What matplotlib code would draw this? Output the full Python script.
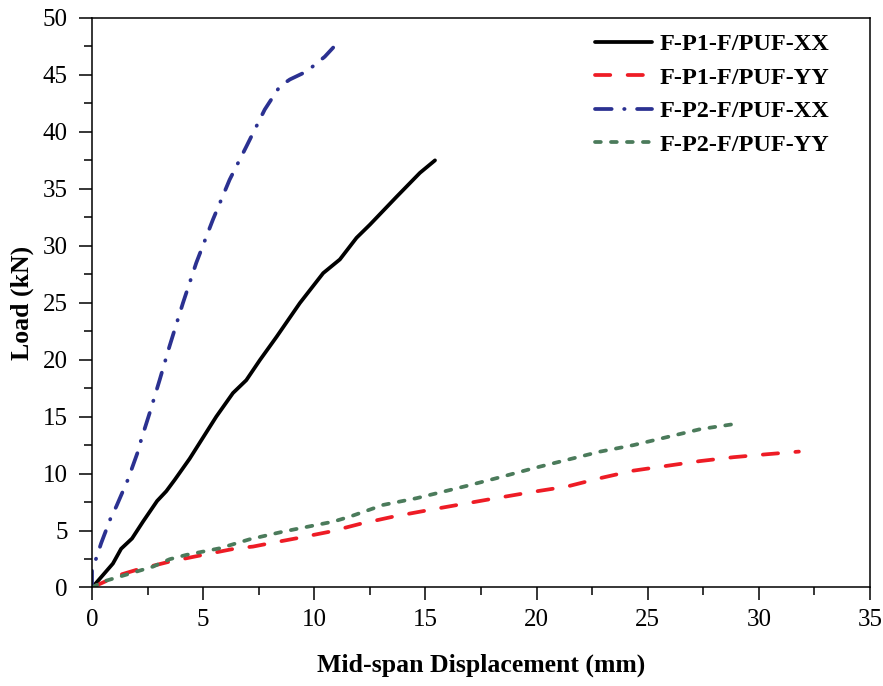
import matplotlib
matplotlib.use("Agg")
import matplotlib.pyplot as plt
from matplotlib.ticker import MultipleLocator

plt.rcParams['font.family'] = ['Liberation Serif', 'DejaVu Serif']
plt.rcParams['lines.scale_dashes'] = False

# F-P1-F/PUF-XX
p1xx_x = [0.0, 0.04, 0.94, 1.31, 1.8, 2.3, 2.93, 3.34, 3.72, 4.39, 5.59, 6.34, 6.94, 7.55, 8.3,
          9.35, 10.4, 11.15, 11.9, 12.5, 13.7, 14.75, 15.43]
p1xx_y = [0.0, 0.07, 2.1, 3.4, 4.3, 5.8, 7.6, 8.45, 9.45, 11.3, 15.0, 17.07, 18.2, 19.96, 22.0,
          24.97, 27.6, 28.8, 30.7, 31.85, 34.3, 36.4, 37.5]

# F-P1-F/PUF-YY
p1yy_x = [0.0, 1.24, 1.99, 3.49, 4.99, 6.5, 7.24, 8.0, 9.2, 10.7, 12.05, 13.55, 15.35, 18.05, 19.85,
          21.36, 22.86, 24.36, 25.86, 27.36, 28.86, 30.37, 31.8]
p1yy_y = [0.0, 1.1, 1.54, 2.27, 2.86, 3.44, 3.59, 3.88, 4.32, 4.9, 5.58, 6.22, 6.87, 7.8, 8.4,
          8.86, 9.6, 10.26, 10.68, 11.1, 11.44, 11.7, 11.93]

# F-P2-F/PUF-XX
p2xx_x = [0.0, 0.0, 0.19, 0.41, 0.86, 1.09, 1.61, 2.06, 2.21, 2.59, 3.04, 3.49, 4.09, 4.69, 5.44,
          6.19, 6.94, 7.77, 8.45, 8.9, 9.65, 10.47, 10.85]
p2xx_y = [0.0, 1.6, 2.57, 3.88, 6.2, 7.1, 9.45, 11.9, 12.96, 15.3, 18.2, 21.2, 24.97, 28.5, 32.3,
          35.8, 38.7, 41.96, 44.0, 44.6, 45.3, 46.6, 47.4]

# F-P2-F/PUF-YY
p2yy_x = [0.0, 0.49, 1.24, 2.74, 3.49, 4.24, 5.74, 7.09, 8.59, 10.1, 10.85, 11.6, 13.1, 14.6,
          16.86, 18.36, 19.86, 21.36, 22.86, 24.36, 25.86, 27.36, 28.86]
p2yy_y = [0.0, 0.51, 0.95, 1.83, 2.48, 2.86, 3.44, 4.23, 4.9, 5.49, 5.78, 6.22, 7.25, 7.84,
          8.92, 9.68, 10.47, 11.2, 11.93, 12.5, 13.2, 13.9, 14.34]

labels = ['F-P1-F/PUF-XX', 'F-P1-F/PUF-YY', 'F-P2-F/PUF-XX', 'F-P2-F/PUF-YY']

fig = plt.figure(figsize=(8.83, 6.86), dpi=100)
ax = fig.add_axes([0.1042, 0.1436, 0.8811, 0.8302])

lw = 2.7
ax.plot(p1xx_x, p1xx_y, color='black', lw=lw, solid_capstyle='round', solid_joinstyle='round',
        label=labels[0])
ax.plot(p1yy_x, p1yy_y, color='#EE1C25', lw=lw, linestyle=(0, (11.0, 12.5)),
        dash_capstyle='round', label=labels[1])
ax.plot(p2xx_x, p2xx_y, color='#2B3191', lw=lw, linestyle=(0, (12.0, 9.0, 0.3, 9.0)),
        dash_capstyle='round', label=labels[2])
ax.plot(p2yy_x, p2yy_y, color='#4B7B5B', lw=lw, linestyle=(0, (4.2, 7.3)),
        dash_capstyle='round', label=labels[3])

ax.set_xlim(0, 35)
ax.set_ylim(0, 50)
ax.xaxis.set_major_locator(MultipleLocator(5))
ax.xaxis.set_minor_locator(MultipleLocator(2.5))
ax.yaxis.set_major_locator(MultipleLocator(5))
ax.yaxis.set_minor_locator(MultipleLocator(2.5))
ax.tick_params(which='major', direction='out', length=9.5, width=1.1, labelsize=18, pad=6)
ax.tick_params(which='minor', direction='out', length=6, width=1.1)
ax.tick_params(axis='y', which='major', pad=8)
for s in ax.spines.values():
    s.set_linewidth(1.1)

ax.set_xlabel('Mid-span Displacement (mm)', fontsize=18.5, fontweight='bold', labelpad=16)
ax.set_ylabel('Load (kN)', fontsize=18.5, fontweight='bold', labelpad=6)

leg = ax.legend(loc='upper left', bbox_to_anchor=(0.6465, 0.973), frameon=False,
                prop={'size': 17.5, 'weight': 'bold'}, handlelength=2.35, handletextpad=0.3,
                labelspacing=0.47, borderaxespad=0, borderpad=0)

fig.savefig('out.png', dpi=100)
